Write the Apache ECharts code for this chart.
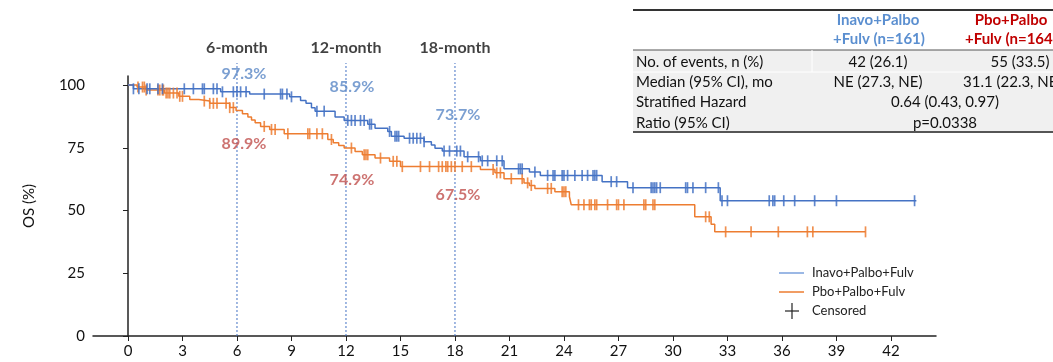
<!DOCTYPE html>
<html>
<head>
<meta charset="utf-8">
<script src="https://cdn.jsdelivr.net/npm/echarts@6/dist/echarts.min.js"></script>
<style>
  html, body { margin: 0; padding: 0; background: #fff; }
  #chart { width: 1053px; height: 362px; }
</style>
</head>
<body>
<div id="chart"></div>
<script>
// Kaplan-Meier overall survival, step points [month, OS %]
const inavoSteps = [
  [0, 100], [0.3, 98.5], [5.1, 97.3], [6.7, 96.4], [8.9, 95.3], [9.5, 93.8],
  [9.8, 92.7], [10.1, 90.9], [10.3, 89.6], [11.4, 87.3], [11.9, 85.9],
  [13.2, 84.4], [13.6, 82.8], [14.3, 81.5], [14.5, 79.6], [15.2, 78.8],
  [16.3, 77.4], [16.7, 76.1], [16.9, 74.8], [17.3, 73.7], [18.5, 71.4],
  [19.4, 69.8], [20.7, 66.6], [22.1, 65.3], [22.7, 64.0], [26.1, 61.5],
  [27.5, 59.1], [32.6, 53.9], [43.4, 53.9]
];
const pboSteps = [
  [0, 100], [0.5, 99.2], [1.0, 98.0], [2.0, 96.8], [2.8, 95.5], [3.4, 94.2],
  [3.9, 93.6], [4.5, 92.7], [5.6, 91.0], [5.95, 89.9], [6.3, 88.6], [6.6, 87.3],
  [6.8, 86.1], [7.0, 85.0], [7.3, 83.5], [7.8, 82.3], [8.6, 80.6], [11.0, 78.3],
  [11.3, 77.0], [11.6, 75.9], [11.9, 74.9], [12.5, 73.5], [12.9, 72.2],
  [13.6, 70.9], [14.4, 69.6], [15.0, 67.5], [19.4, 66.3], [20.2, 65.0],
  [20.7, 62.7], [21.8, 61.0], [22.1, 60.0], [22.4, 58.8], [23.5, 57.5],
  [24.3, 55.5], [24.4, 52.3], [31.2, 47.5], [32.1, 44.5], [32.3, 41.5],
  [40.6, 41.5]
];

// Censoring times (months)
const inavoCensored = [
  0.3, 0.6, 1.05, 1.2, 1.65, 1.9, 3.1, 3.6, 4.1, 4.2, 4.7, 4.9, 5.2, 5.8, 6.0,
  6.2, 6.5, 7.5, 8.4, 8.5, 8.75, 9.0, 10.4, 10.8, 12.1, 12.3, 12.5, 12.8, 13.0,
  13.3, 13.4, 14.4, 14.7, 14.8, 14.9, 15.5, 15.7, 15.9, 16.1, 16.3, 17.4, 17.7,
  18.1, 18.3, 18.7, 19.3, 19.5, 19.8, 20.3, 20.6, 21.5, 21.6, 21.7, 22.4, 23.1,
  23.4, 23.5, 23.9, 24.0, 24.2, 24.6, 25.0, 25.3, 25.6, 25.7, 25.8, 26.6, 26.9,
  27.8, 28.8, 28.9, 29.0, 29.1, 29.3, 30.7, 30.8, 31.1, 31.8, 32.5, 32.7, 33.0,
  35.3, 35.5, 35.6, 36.1, 36.7, 37.8, 39.0, 43.3
];
const pboCensored = [
  0.55, 0.8, 0.9, 1.0, 1.65, 1.75, 1.9, 1.95, 2.1, 2.2, 2.3, 2.5, 2.7, 2.85,
  3.0, 4.2, 4.5, 4.7, 4.9, 5.4, 5.6, 5.8, 7.5, 7.9, 8.1, 8.8, 9.9, 10.0, 10.4,
  10.7, 11.2, 12.3, 13.0, 13.1, 13.2, 13.9, 14.6, 14.8, 15.1, 16.1, 16.6, 17.1,
  17.3, 17.5, 17.6, 17.8, 18.0, 18.4, 18.9, 20.1, 20.3, 20.5, 21.1, 21.7, 22.0,
  22.2, 23.1, 23.3, 23.9, 24.0, 24.1, 24.8, 25.1, 25.4, 25.5, 25.7, 25.8, 26.4,
  26.9, 27.0, 27.3, 28.4, 28.5, 28.9, 29.0, 31.8, 32.0, 32.9, 34.3, 35.8, 37.4,
  37.7, 40.6
];

// Landmark estimates
const landmarkMonths = [6, 12, 18];
const landmarkNames = ['6-month', '12-month', '18-month'];
const inavoLandmark = [97.3, 85.9, 73.7];
const pboLandmark = [89.9, 74.9, 67.5];

const xTicks = [0, 3, 6, 9, 12, 15, 18, 21, 24, 27, 30, 33, 36, 39, 42];
const yTicks = [0, 25, 50, 75, 100];

const armNames = ['Inavo+Palbo+Fulv', 'Pbo+Palbo+Fulv'];

// Summary table rows
const tableHeader = [['Inavo+Palbo', '+Fulv (n=161)'], ['Pbo+Palbo', '+Fulv (n=164)']];
const tableRows = [
  ['No. of events, n (%)', '42 (26.1)', '55 (33.5)'],
  ['Median (95% CI), mo', 'NE (27.3, NE)', '31.1 (22.3, NE)']
];
const hrLabel = ['Stratified Hazard', 'Ratio (95% CI)'];
const hrValues = ['0.64 (0.43, 0.97)', 'p=0.0338'];

const BLUE = '#4472c4';
const ORANGE = '#ed7d31';
const BLUE_TXT = '#5a87c6';
const RED_TXT = '#c0504d';
const FONT = 'Lato, "Open Sans", sans-serif';

function survAt(steps, t) {
  let s = steps[0][1];
  for (const p of steps) { if (p[0] <= t) s = p[1]; else break; }
  return s;
}

const chart = echarts.init(document.getElementById('chart'), null, { renderer: 'canvas' });

const censorSeries = (name, times, steps, color) => ({
  name: name,
  type: 'scatter',
  data: times.map(t => [t, survAt(steps, t)]),
  symbol: 'rect',
  symbolSize: [1.7, 11],
  itemStyle: { color: color, opacity: 0.85 },
  silent: true,
  z: 4
});

const refLineSeries = landmarkMonths.map(m => ({
  type: 'line',
  data: [[m, 0], [m, 108.8]],
  symbol: 'none',
  clip: false,
  lineStyle: { color: BLUE, width: 1, type: [2, 2] },
  silent: true,
  z: 1
}));

const pctOffsetsTop = [[7, -18], [6, -34], [3, -36]];
const pctOffsetsBottom = [[7, 33], [6, 32], [3, 28]];

const pctLabelSeries = (vals, offsets, color) => ({
  type: 'scatter',
  symbolSize: 0,
  silent: true,
  z: 6,
  data: vals.map((v, i) => ({
    value: [landmarkMonths[i], v],
    label: { offset: offsets[i] }
  })),
  label: {
    show: true,
    position: 'inside',
    formatter: p => p.value[1].toFixed(1) + '%',
    color: color,
    fontFamily: FONT,
    fontWeight: 'bold',
    fontSize: 16
  }
});

// Table graphics
const tblLeft = 633, tblRight = 1053;
const graphics = [
  { type: 'rect', shape: { x: tblLeft, y: 50, width: tblRight - tblLeft, height: 81 }, style: { fill: '#f0f0f0' } },
  { type: 'line', shape: { x1: tblLeft, y1: 10, x2: tblRight, y2: 10 }, style: { stroke: '#333', lineWidth: 2 } },
  { type: 'line', shape: { x1: tblLeft, y1: 50, x2: tblRight, y2: 50 }, style: { stroke: '#555', lineWidth: 1 } },
  { type: 'line', shape: { x1: tblLeft, y1: 72, x2: tblRight, y2: 72 }, style: { stroke: '#fff', lineWidth: 1 } },
  { type: 'line', shape: { x1: 812, y1: 50, x2: 812, y2: 72 }, style: { stroke: '#fff', lineWidth: 1 } },
  { type: 'line', shape: { x1: tblLeft, y1: 132, x2: tblRight, y2: 132 }, style: { stroke: '#555', lineWidth: 2 } }
];
const txt = (x, y, text, opts) => ({
  type: 'text', x: x, y: y,
  style: Object.assign({ text: text, font: '15px ' + FONT, fill: '#111', textAlign: 'center', textVerticalAlign: 'middle' }, opts || {})
});
const HDR = 'bold 15px ' + FONT;
graphics.push(txt(878, 20, tableHeader[0][0], { font: HDR, fill: '#5b8fd0' }));
graphics.push(txt(879, 39, tableHeader[0][1], { font: HDR, fill: '#5b8fd0' }));
graphics.push(txt(1011, 20, tableHeader[1][0], { font: HDR, fill: '#c00000' }));
graphics.push(txt(965, 39, tableHeader[1][1], { font: HDR, fill: '#c00000', textAlign: 'left' }));
const rowY = [62, 82];
tableRows.forEach((r, i) => {
  graphics.push(txt(636, rowY[i], r[0], { textAlign: 'left' }));
  graphics.push(txt(878, rowY[i], r[1]));
});
graphics.push(txt(1020, 62, tableRows[0][2]));
graphics.push(txt(963, 82, tableRows[1][2], { textAlign: 'left' }));
graphics.push(txt(636, 102, hrLabel[0], { textAlign: 'left' }));
graphics.push(txt(636, 123, hrLabel[1], { textAlign: 'left' }));
graphics.push(txt(945, 102, hrValues[0]));
graphics.push(txt(945, 123, hrValues[1]));

// Legend
const legY = [273, 292, 311];
const LEG = '13px ' + FONT;
graphics.push({ type: 'line', shape: { x1: 779, y1: legY[0], x2: 804, y2: legY[0] }, style: { stroke: '#7aa0dc', lineWidth: 1.5 } });
graphics.push({ type: 'line', shape: { x1: 779, y1: legY[1], x2: 804, y2: legY[1] }, style: { stroke: ORANGE, lineWidth: 1.5 } });
graphics.push({ type: 'line', shape: { x1: 785, y1: legY[2], x2: 799, y2: legY[2] }, style: { stroke: '#222', lineWidth: 1.2 } });
graphics.push({ type: 'line', shape: { x1: 792, y1: legY[2] - 8, x2: 792, y2: legY[2] + 8 }, style: { stroke: '#222', lineWidth: 1.2 } });
graphics.push(txt(812, legY[0], armNames[0], { textAlign: 'left', font: LEG, fill: '#222' }));
graphics.push(txt(812, legY[1], armNames[1], { textAlign: 'left', font: LEG, fill: '#222' }));
graphics.push(txt(812, legY[2], 'Censored', { textAlign: 'left', font: LEG, fill: '#222' }));

const option = {
  animation: false,
  backgroundColor: '#fff',
  grid: { left: 93, right: 117, top: 76, bottom: 26 },
  xAxis: {
    type: 'value',
    min: -1.926, max: 44.48,
    axisLine: { show: true, lineStyle: { color: '#222', width: 1.5 } },
    axisTick: { show: true, customValues: xTicks, length: 5, lineStyle: { color: '#222' } },
    axisLabel: { customValues: xTicks, color: '#111', fontSize: 15, fontFamily: FONT, margin: 8 },
    splitLine: { show: false }
  },
  yAxis: {
    type: 'value',
    min: 0, max: 103.6,
    name: 'OS (%)',
    nameLocation: 'middle',
    nameGap: 56,
    nameRotate: 90,
    nameTextStyle: { color: '#111', fontSize: 15, fontFamily: FONT },
    axisLine: { show: true, lineStyle: { color: '#222', width: 1.5 } },
    axisTick: { show: true, customValues: yTicks, length: 5, lineStyle: { color: '#222' } },
    axisLabel: { customValues: yTicks, color: '#111', fontSize: 15, fontFamily: FONT, margin: 8 },
    splitLine: { show: false }
  },
  graphic: graphics,
  series: [
    ...refLineSeries,
    {
      name: armNames[1], type: 'line', step: 'end', data: pboSteps, symbol: 'none',
      lineStyle: { color: ORANGE, width: 1.5 }, silent: true, z: 3
    },
    {
      name: armNames[0], type: 'line', step: 'end', data: inavoSteps, symbol: 'none',
      lineStyle: { color: BLUE, width: 1.5 }, silent: true, z: 3
    },
    censorSeries('pboCens', pboCensored, pboSteps, ORANGE),
    censorSeries('inavoCens', inavoCensored, inavoSteps, BLUE),
    pctLabelSeries(inavoLandmark, pctOffsetsTop, BLUE_TXT),
    pctLabelSeries(pboLandmark, pctOffsetsBottom, RED_TXT),
    {
      type: 'scatter', symbolSize: 0, clip: false, silent: true,
      data: landmarkMonths.map((m, i) => ({ value: [m, 114.7], name: landmarkNames[i] })),
      label: {
        show: true, position: 'inside', formatter: p => p.name,
        color: '#111', fontFamily: FONT, fontWeight: 'bold', fontSize: 16
      }
    }
  ]
};

chart.setOption(option);
</script>
</body>
</html>
